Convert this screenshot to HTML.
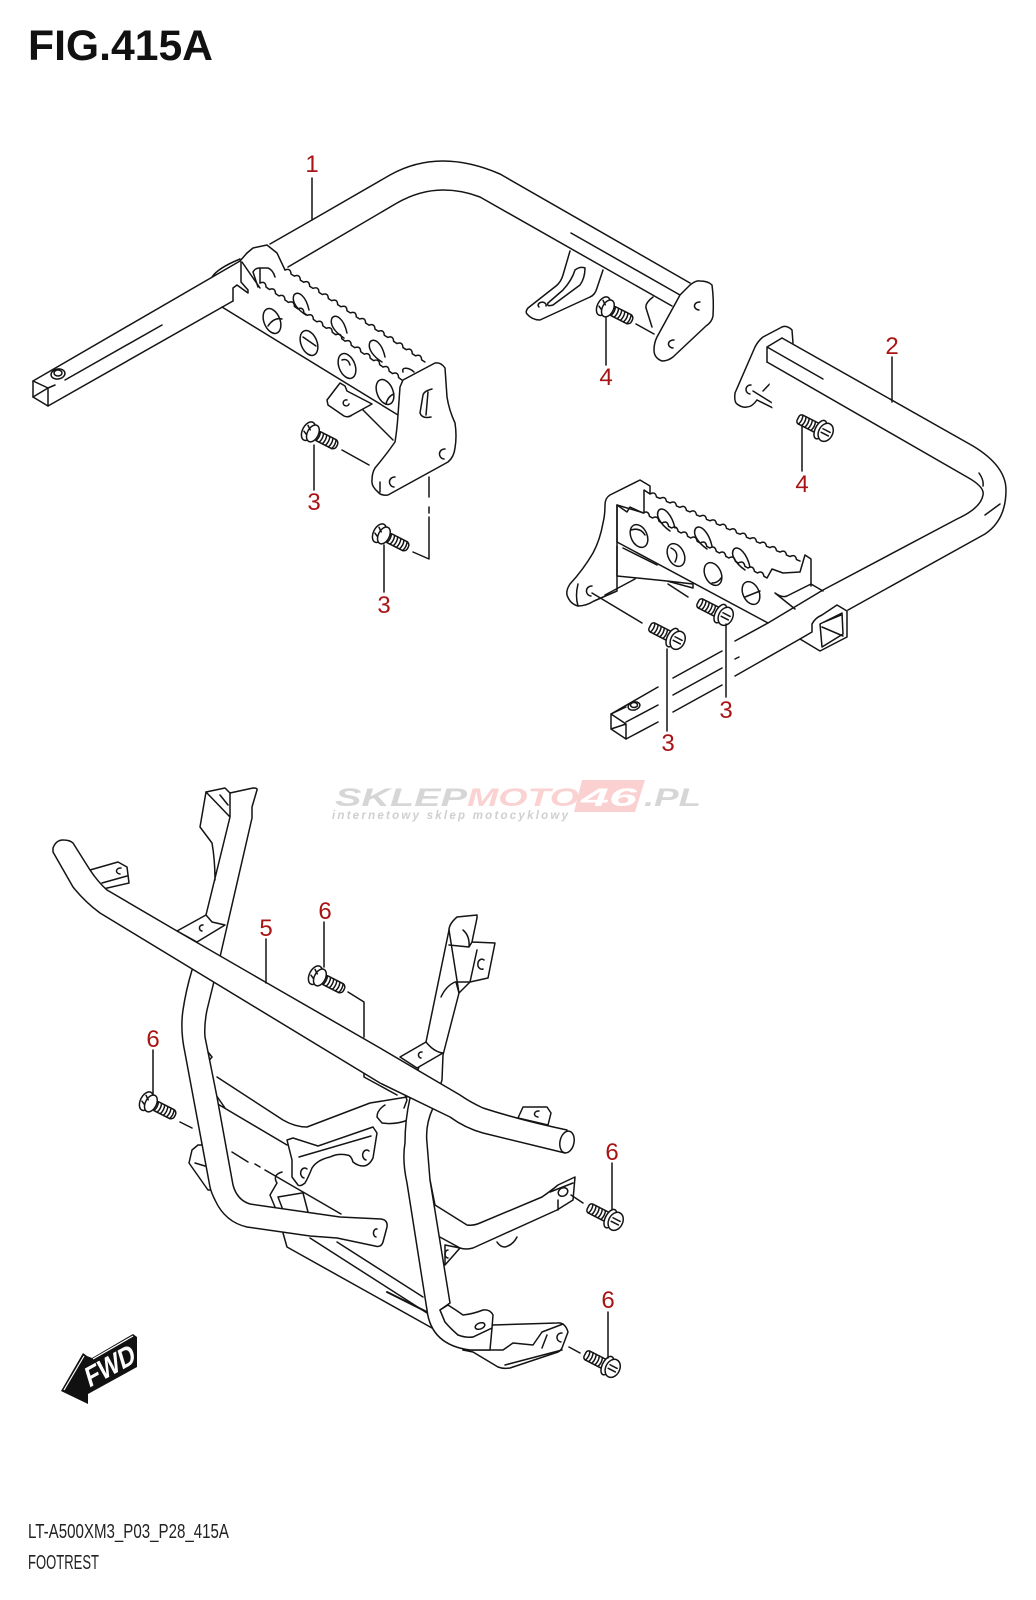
<!DOCTYPE html>
<html><head><meta charset="utf-8"><style>
html,body{margin:0;padding:0;background:#fff}
svg{display:block}
.lab{font-family:"Liberation Sans",sans-serif;font-size:24px;fill:#a81414;text-anchor:middle}
</style></head><body>
<svg width="1036" height="1600" viewBox="0 0 1036 1600" xmlns="http://www.w3.org/2000/svg">
<defs>
<g id="ba" transform="rotate(27)">
<rect x="4" y="-5" width="24" height="10" rx="4" fill="#fff"/>
<path d="M7 -5q2 5 0 10M10.5 -5q2 5 0 10M14 -5q2 5 0 10M17.500 -5q2 5 0 10M21 -5q2 5 0 10M24.500 -5q2 5 0 10"/>
<ellipse cx="-4" cy="0" rx="6" ry="10" fill="#fff"/><ellipse cx="1" cy="0" rx="5.500" ry="9" fill="#fff"/><path d="M-7 -5l4 3M-8 2l4 2"/>
</g>
<g id="bb" transform="rotate(27)">
<rect x="-28" y="-5" width="24" height="10" rx="3" fill="#fff"/>
<path d="M-25 -5q2 5 0 10M-21.500 -5q2 5 0 10M-18 -5q2 5 0 10M-14.500 -5q2 5 0 10M-11 -5q2 5 0 10M-7.500 -5q2 5 0 10"/>
<ellipse cx="-3" cy="0" rx="5" ry="10" fill="#fff"/><ellipse cx="3" cy="0" rx="7" ry="9.500" fill="#fff"/><path d="M-1 -2h8M-1 2h8"/>
</g>
</defs>
<text x="28" y="60" font-family="'Liberation Sans',sans-serif" font-weight="700" font-size="43" fill="#111" textLength="185" lengthAdjust="spacingAndGlyphs">FIG.415A</text>
<text x="28" y="1538" font-family="'Liberation Sans',sans-serif" font-size="20" fill="#222" textLength="201" lengthAdjust="spacingAndGlyphs">LT-A500XM3_P03_P28_415A</text>
<text x="28" y="1569" font-family="'Liberation Sans',sans-serif" font-size="20" fill="#222" textLength="71" lengthAdjust="spacingAndGlyphs">FOOTREST</text>

<!-- watermark -->
<g font-family="'Liberation Sans',sans-serif" font-weight="700" font-style="italic">
<polygon points="582,780 645,780 635,812 574,812" fill="#fbd0d0"/>
<text x="335" y="806" font-size="25" fill="#d6d6d6" textLength="132" lengthAdjust="spacingAndGlyphs">SKLEP</text>
<text x="467" y="806" font-size="25" fill="#fbd2d2" textLength="112" lengthAdjust="spacingAndGlyphs">MOTO</text>
<text x="581" y="806" font-size="25" fill="#fff" textLength="56" lengthAdjust="spacingAndGlyphs">46</text>
<text x="644" y="806" font-size="25" fill="#d6d6d6" textLength="57" lengthAdjust="spacingAndGlyphs">.PL</text>
<text x="332" y="819" font-size="11.500" fill="#cfcfcf" textLength="236">internetowy sklep motocyklowy</text>
</g>

<g fill="none" stroke="#141414" stroke-width="1.500" stroke-linejoin="round" stroke-linecap="round">
<!-- ============ PART 1 ============ -->
<path d="M212 277Q218 268 240 259"/>
<path d="M240 261L33 381V397L48 406L233 301"/>
<path d="M33 381L48 388V406M33 397L48 388M162 325L65 380M55 385L48 388"/>
<ellipse cx="58" cy="374" rx="7" ry="5" transform="rotate(-10 58 374)"/><ellipse cx="58" cy="373" rx="4" ry="3"/>
<path d="M270 244L312 220L390 175Q415 161 443 161Q470 161 500 174L690 283"/>
<path d="M288 267L397 203Q420 190 443 190Q462 190 480 197L672 306"/>
<path d="M571 233L680 295"/>
<!-- bracket on rear of part 1 -->
<path fill="#fff" d="M570 251L563 275Q561 282 556 286L528 308Q525 312 527 314Q532 320 540 320L590 297Q595 295 597 288L603 270"/>
<path d="M548 303L563 290Q572 280 575 270Q580 266 585 268Q585 278 580 285L553 305Q546 307 548 303Z"/>
<path d="M546 306a4 3 0 1 0 -7 1"/>
<path d="M653 297Q645 303 646 308L652 327M636 324L654 334"/>
<!-- plate -->
<path fill="#fff" d="M690 285Q696 280 700 281Q708 281 712 285Q714 300 713 316Q712 322 706 326L673 357Q668 361 662 361Q654 358 654 350Q654 343 657 337L680 295Z"/>
<path d="M700 302a5 4 0 1 0 -1 8M674 340a5 4 0 1 0 -1 8"/>
<!-- left step -->
<path d="M222 307L398 415"/>
<path fill="#fff" d="M327 400L340 383L345 386L347 391L372 404L352 415Q348 418 344 416L328 405Z" />
<path d="M363 410L393 440M347 400a3 3 0 1 0 2 4"/>
<path d="M241 262V282L248 290V293L237 285L233 288V301"/>
<path d="M247 253L253 248L267 245L277 253L285 270"/>
<path d="M242 262L260 288M253 272Q255 268 260 268H268Q273 270 275 277M253 272L258 287M260 268V283"/>
<path d="M240 261L247 253"/>
<path d="M285 270q5.700-2.200 6 4l3.330 2.130q5.700-2.200 6 4l3.330 2.130q5.700-2.200 6 4l3.330 2.130q5.700-2.200 6 4l3.330 2.130q5.700-2.200 6 4l3.330 2.130q5.700-2.200 6 4l3.330 2.130q5.700-2.200 6 4l3.330 2.130q5.700-2.200 6 4l3.330 2.130q5.700-2.200 6 4l3.330 2.130q5.700-2.200 6 4l3.330 2.130q5.700-2.200 6 4l3.330 2.130q5.700-2.200 6 4l3.330 2.130q5.700-2.200 6 4l3.330 2.130q5.700-2.200 6 4l3.330 2.130q5.700-2.200 6 4l3.330 2.130"/>
<!-- rear holes (arcs) -->
<path d="M306 315C298 310 291 302 294 295C298 290 306 296 309 310M344 338C336 333 329 325 332 318C336 313 344 319 347 333M382 362C374 357 367 349 370 342C374 337 382 343 385 357M414 372C410 368 401 366 403 372"/>
<path d="M260 283q5.700-2.200 6 4l3.470 2.470q5.700-2.200 6 4l3.470 2.470q5.700-2.200 6 4l3.470 2.470q5.700-2.200 6 4l3.470 2.470q5.700-2.200 6 4l3.470 2.470q5.700-2.200 6 4l3.470 2.470q5.700-2.200 6 4l3.470 2.470q5.700-2.200 6 4l3.470 2.470q5.700-2.200 6 4l3.470 2.470q5.700-2.200 6 4l3.470 2.470q5.700-2.200 6 4l3.470 2.470q5.700-2.200 6 4l3.470 2.470q5.700-2.200 6 4l3.470 2.470q5.700-2.200 6 4l3.470 2.470q5.700-2.200 6 4l3.470 2.470"/>
<ellipse cx="272" cy="321" rx="8" ry="13" transform="rotate(-22 272 321)"/><path d="M268 326Q274 317 282 319"/>
<ellipse cx="309" cy="343" rx="8" ry="13" transform="rotate(-22 309 343)"/><path d="M303 337L316 346"/>
<ellipse cx="347" cy="366" rx="8" ry="13" transform="rotate(-22 347 366)"/><path d="M342 360Q348 358 350 365"/>
<ellipse cx="385" cy="392" rx="8" ry="13" transform="rotate(-22 385 392)"/><path d="M386 404Q388 396 394 394"/>
<path fill="#fff" d="M400 387L403 380L435 363Q441 362 445 368L447 397Q449 410 455 423Q457 436 455 448Q454 457 448 462L388 495Q381 496 378 492Q371 486 372 480Q372 473 375 468Q386 455 395 442Q397 430 398 415Z"/>
<path d="M432 389Q424 391 423 395L420 413Q422 419 431 417M428 392L426 415"/>
<path d="M445 449a4 4 0 1 0 -1 10M395 477a4 4 0 1 0 -1 10M380 482V492"/>
<!-- bolts part 1 -->
<use href="#ba" x="312" y="433"/><use href="#ba" x="383" y="535"/><use href="#ba" x="607" y="308"/>
<path d="M342 450L369 465M413 552L429 559V517M429 507V513M429 477V497"/>
<path d="M314 445V490M384 545V592M606 318V365M312 178V220"/>

<!-- ============ PART 2 ============ -->
<path fill="#fff" d="M793 343L792 330Q787 325 782 327L763 337Q758 341 755 347L735 393Q734 402 737 404Q742 408 747 407Q752 407 757 400"/>
<path d="M757 400L777 410M795 410H817Q822 408 827 397M763 391L781 372M753 391L790 414"/>
<path d="M751 385a4 4 0 1 0 -1 9"/>
<path fill="#fff" d="M853 415L847 438Q845 444 840 448L813 469Q809 474 811 477Q815 483 820 482L873 458Q878 455 880 449L886 433"/>
<path d="M832 465L847 454Q855 445 858 431Q863 427 868 429Q868 438 863 446L836 468Q829 468 832 465Z"/>
<path d="M829 468a4 3 0 1 0 -6 5"/>
<path fill="#fff" stroke="none" d="M767 347L782 338L973 446L1006 490L993 530L800 639L767 362Z"/>
<path d="M782 338L973 446Q1006 466 1006 490Q1006 520 985 534L848 610"/>
<path d="M767 347L782 338M767 347V362M767 347L823 379"/>
<path d="M767 362L967 477Q985 487 983 495Q981 508 957 519L823 590L768 623L735 641"/>
<path d="M979 473Q984 480 983 486M985 515L1000 504"/>
<path d="M800 639L735 676M722 685L673 712M658 722L626 739"/>
<path d="M722 651L673 678M658 687L611 714M722 668L673 695M658 705L626 722"/>
<path d="M735 659L739 657"/>
<path d="M611 714L626 724V739L611 729ZM611 729L626 724M611 714L626 707"/>
<ellipse cx="634" cy="706" rx="6" ry="4" transform="rotate(-15 634 706)"/><ellipse cx="634" cy="705" rx="3.500" ry="2.500"/>
<!-- box -->
<path fill="#fff" d="M812 624Q815 618 822 615L837 605L847 611V637L820 651L800 639L812 632Z"/>
<path d="M820 624L842 613L843 634L822 647ZM822 627L843 636M824 622L841 615"/>
<!-- right step -->
<path d="M768 623L617 542"/>
<path fill="#fff" d="M644 513V490L650 494V486L640 480L610 495Q605 498 605 505Q605 515 603 523Q600 540 593 553Q583 570 570 584Q566 590 567 595Q570 604 578 606Q586 606 594 601L617 591V505Z"/>
<path d="M578 584Q575 596 578 606M592 586a5 5 0 1 0 -1 10"/>
<path d="M650 494q5.250-3 6.500 3l3.500 1.470q5.250-3 6.500 3l3.500 1.470q5.250-3 6.500 3l3.500 1.470q5.250-3 6.500 3l3.500 1.470q5.250-3 6.500 3l3.500 1.470q5.250-3 6.500 3l3.500 1.470q5.250-3 6.500 3l3.500 1.470q5.250-3 6.500 3l3.500 1.470q5.250-3 6.500 3l3.500 1.470q5.250-3 6.500 3l3.500 1.470q5.250-3 6.500 3l3.500 1.470q5.250-3 6.500 3l3.500 1.470q5.250-3 6.500 3l3.500 1.470q5.250-3 6.500 3l3.500 1.470q5.250-3 6.500 3l3.500 1.470"/>
<path d="M670 531C660 524 655 515 659 510C664 506 672 515 675 528M707 549C697 542 692 533 696 528C701 524 709 533 712 546M745 570C735 563 730 554 734 549C739 545 747 554 750 567"/>
<path d="M617 505L627 512L630 507L643 513q5.250-3 6.500 3.300l3.040 1.700q5.250-3 6.500 3.300l3.040 1.700q5.250-3 6.500 3.300l3.040 1.700q5.250-3 6.500 3.300l3.040 1.700q5.250-3 6.500 3.300l3.040 1.700q5.250-3 6.500 3.300l3.040 1.700q5.250-3 6.500 3.300l3.040 1.700q5.250-3 6.500 3.300l3.040 1.700q5.250-3 6.500 3.300l3.040 1.700q5.250-3 6.500 3.300l3.040 1.700q5.250-3 6.500 3.300l3.040 1.700q5.250-3 6.500 3.300l3.040 1.700q5.250-3 6.500 3.300l3.040 1.700L772 569L783 573L800 572L805 555L811 559V586"/>
<path d="M617 505V542M617 546V576L667 581L693 584V588L667 581M635 579L605 595M623 548L657 565M775 593Q782 598 787 596L811 584L823 591M775 593L795 609M668 584L688 597M592 593L642 623"/>
<ellipse cx="639" cy="536" rx="8" ry="12" transform="rotate(-25 639 536)"/><path d="M631 530Q640 527 645 535"/>
<ellipse cx="676" cy="555" rx="8" ry="12" transform="rotate(-25 676 555)"/><path d="M671 548Q680 552 675 562"/>
<ellipse cx="713" cy="574" rx="8" ry="12" transform="rotate(-25 713 574)"/><path d="M712 583Q718 583 721 578"/>
<ellipse cx="751" cy="593" rx="8" ry="12" transform="rotate(-25 751 593)"/><path d="M745 597L760 591"/>
<!-- bolts part 2 -->
<use href="#bb" x="723" y="615"/><use href="#bb" x="675" y="639"/><use href="#bb" x="823" y="431"/>
<path d="M726 624V697M667 649V731M802 425V471M892 357V402"/>

<!-- ============ PART 5 ============ -->
<!-- rails / foot plate -->
<path d="M283 1233L287 1247L432 1328M310 1238L427 1313M337 1242L423 1297"/>
<path stroke-width="2" d="M387 1292L427 1312"/>
<path fill="#fff" d="M493 1325L557 1323Q565 1322 568 1332L562 1348Q560 1352 555 1353L510 1368Q503 1369 498 1367L473 1352L463 1350Z"/>
<path d="M463 1350L503 1350L513 1343L533 1345L542 1332L563 1324M505 1365L562 1350M542 1348L547 1335M562 1333a4 4 0 1 0 -1 9"/>
<!-- lumps -->
<path fill="#fff" d="M198 1145L192 1150L189 1163L208 1190L215 1190L205 1145Z"/>
<path d="M195 1163L205 1166"/>
<path d="M497 1242Q500 1247 505 1247Q513 1245 517 1237"/>
<path fill="#fff" d="M445 1245V1265L460 1248Z"/><path d="M448 1250a3 4 0 1 0 0 8"/>
<!-- right cradle -->
<path fill="#fff" d="M430 1180L435 1205L467 1225Q473 1226 480 1223L542 1197Q552 1190 558 1185L575 1177L573 1200L557 1210L473 1248Q466 1250 460 1248L438 1236Z"/>
<path d="M550 1192L573 1183M558 1200V1210"/>
<ellipse cx="563" cy="1192" rx="5" ry="4" transform="rotate(-30 563 1192)"/>
<!-- centre pieces -->
<path d="M277 1183L270 1195L275 1207M278 1197L283 1210M303 1193L308 1212M282 1172Q272 1175 277 1183M278 1197L302 1193"/>
<!-- left cradle -->
<path d="M208 1052L212 1057L207 1063L216 1095L225 1108M217 1077L283 1120Q295 1127 307 1127L370 1103L407 1097M216 1103L287 1145"/>
<path d="M377 1117Q377 1110 385 1105M377 1117L382 1123Q395 1125 408 1120"/>
<path fill="#fff" d="M287 1140L293 1138L318 1146L373 1127L377 1133L373 1158Q369 1166 363 1166Q358 1166 353 1162Q351 1155 347 1155Q338 1153 330 1157Q317 1160 312 1168Q308 1178 305 1183Q300 1187 298 1185L292 1177V1160Z"/>
<path d="M299 1157L371 1136M307 1169a4 5 0 1 0 -3 9M369 1151a4 5 0 1 0 -3 9"/>
<!-- dashed through -->
<path d="M180 1122L192 1128M232 1152L248 1162M255 1164L260 1167M265 1170L341 1214"/>
<!-- left frame -->
<path fill="#fff" d="M220 957L207 1010Q204 1025 205 1037L217 1097L233 1185Q237 1200 250 1204L340 1217L381 1219Q388 1220 387 1227L383 1242Q381 1248 375 1246L337 1238L310 1236L247 1227Q225 1222 215 1200Q211 1192 210 1187L185 1053Q180 1030 183 1010Q186 990 192 970Z"/>
<path d="M377 1229a3 4 0 1 0 -1 8"/>
<path fill="#fff" d="M206 915L230 817L252 818L220 957L190 950Z" stroke="none"/>
<path d="M206 792L225 788L230 793L253 788Q258 788 257 790L252 807V818L220 957"/>
<path d="M230 793V817L206 915M206 792L200 827L212 843Q215 860 215 880M206 792L230 817M220 795L228 805"/>
<path fill="#fff" d="M206 915L177 931L197 942L225 925L212 922Z"/><path d="M203 925a3 3 0 1 0 -1 6"/>
<!-- right frame -->
<path fill="#fff" d="M459 993L443 1055L442 1080L433 1108Q425 1125 427 1143L430 1180L450 1303L440 1310L445 1322L458 1335L473 1337L492 1328L490 1350L470 1350Q431 1345 427 1310L407 1183Q402 1160 405 1143Q405 1120 410 1098L426 1042L449 930Z"/>
<path d="M403 1090L407 1100L404 1108"/>
<path fill="#fff" d="M440 1310L448 1305Q456 1310 463 1315Q473 1314 483 1310Q490 1309 493 1315L492 1328L473 1337Q466 1338 458 1335Q450 1328 445 1322Z"/>
<ellipse cx="480" cy="1326" rx="5" ry="3" transform="rotate(-20 480 1326)"/>
<path d="M449 930Q449 924 457 917L477 915V918L473 937L472 942L495 943L488 978L470 982H455Q446 986 441 997M449 945L469 947L472 942M463 930Q470 936 469 947M477 950L470 982L459 993L456 982"/>
<path d="M484 960a4 5 0 1 0 -1 9"/>
<path fill="#fff" d="M426 1042L400 1057L417 1068L443 1053Q434 1052 426 1042Z"/><path d="M422 1052a3 3 0 1 0 -1 6"/>
<!-- rear bumper small brackets -->
<path fill="#fff" d="M518 1118L523 1107L547 1107L551 1113L548 1125Z"/><path d="M539 1111a4 3 0 1 0 -1 6"/>
<path fill="#fff" d="M90 870L118 862L127 867L129 883L103 889Z"/><path d="M102 883L127 876M121 868a4 3 0 1 0 -1 6"/>
<!-- bumper -->
<path d="M364 1002V1037M348 992L364 1002M364 1072V1077L397 1095"/>
<path fill="#fff" d="M53 848Q56 840 63 840Q70 840 73 843L90 870Q98 882 107 890L177 931L267 983L380 1048L460 1095Q470 1102 483 1108Q520 1120 567 1130L565 1153L483 1133Q465 1128 450 1117L380 1083L100 913Q85 902 73 887L53 852Z"/>
<ellipse cx="567" cy="1142" rx="7" ry="11" transform="rotate(12 567 1142)" fill="#fff"/>
<!-- bolts part 5 -->
<use href="#ba" x="319" y="977"/><use href="#ba" x="150" y="1103"/><use href="#bb" x="613" y="1220"/><use href="#bb" x="610" y="1367"/>
<path d="M324 922V967M266 939V983M153 1050V1095M612 1163V1210M608 1312V1358M571 1195L583 1203M569 1347L580 1353"/>
</g>

<!-- FWD -->
<polygon points="61,1391 83,1353 87,1356 92,1358 133,1334 137,1337 137,1367 88,1394 88,1404" fill="#111"/>
<path d="M64 1390L84 1356M93 1359L133 1336" stroke="#fff" stroke-width="1.200" fill="none"/>
<text transform="matrix(1,-0.55,0.3,1,89,1388)" font-family="'Liberation Sans',sans-serif" font-weight="700" font-size="27" fill="#fff" textLength="48" lengthAdjust="spacingAndGlyphs">FWD</text>

<!-- labels -->
<text class="lab" x="312" y="172">1</text>
<text class="lab" x="892" y="354">2</text>
<text class="lab" x="606" y="385">4</text>
<text class="lab" x="802" y="492">4</text>
<text class="lab" x="314" y="510">3</text>
<text class="lab" x="384" y="613">3</text>
<text class="lab" x="726" y="718">3</text>
<text class="lab" x="668" y="751">3</text>
<text class="lab" x="325" y="919">6</text>
<text class="lab" x="266" y="936">5</text>
<text class="lab" x="153" y="1047">6</text>
<text class="lab" x="612" y="1160">6</text>
<text class="lab" x="608" y="1308">6</text>
</svg>
</body></html>
